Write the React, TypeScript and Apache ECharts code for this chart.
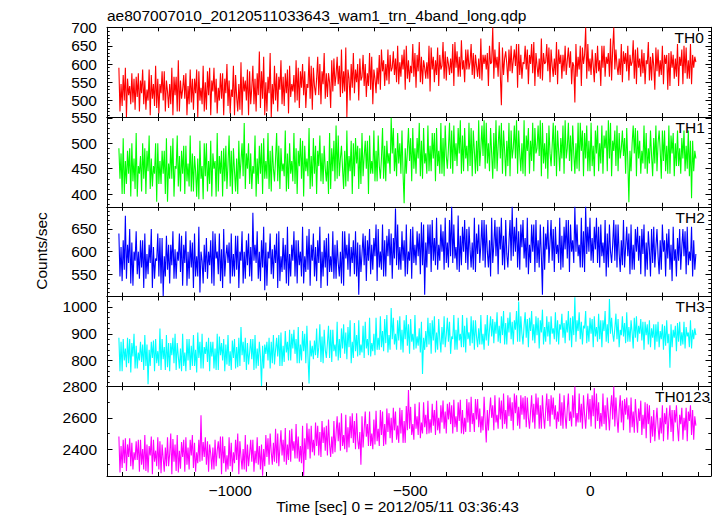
import { useEffect, useRef } from "react";
import * as echarts from "echarts";

// time bins: first bin start and bin width (sec); each bin holds two readings ("a" and "b")
const T_START = -1309;
const T_STEP = 6;

const th0 = [
  470, 545, 500, 590, 515, 540, 495, 560, 510, 575,
  520, 490, 555, 530, 585, 505, 545, 480, 560, 520,
  500, 580, 525, 545, 490, 565, 515, 470, 555, 530,
  505, 575, 540, 495, 560, 520, 585, 500, 535, 470,
  550, 515, 590, 525, 495, 560, 535, 505, 575, 520,
  485, 555, 530, 595, 510, 545, 475, 565, 525, 500,
  580, 535, 490, 560, 515, 634, 505, 460, 550, 520,
  455, 545, 500, 575, 530, 490, 565, 520, 585, 510,
  545, 570, 500, 590, 535, 515, 580, 545, 505, 595,
  540, 560, 515, 600, 545, 505, 575, 550, 610, 525,
  570, 545, 595, 520, 580, 455, 560, 600, 535, 585,
  550, 615, 565, 540, 600, 575, 530, 620, 560, 590,
  545, 640, 580, 600, 555, 625, 590, 570, 615, 545,
  605, 585, 640, 560, 610, 595, 565, 630, 580, 550,
  620, 590, 605, 560, 645, 585, 610, 570, 625, 595,
  560, 635, 600, 615, 575, 660, 590, 620, 565, 610,
  640, 585, 605, 570, 630, 595, 615, 560, 625, 600,
  585, 650, 605, 700, 590, 620, 570, 487, 615, 600,
  640, 580, 610, 595, 655, 570, 625, 605, 585, 640,
  600, 575, 660, 595, 615, 560, 630, 605, 580, 645,
  595, 615, 570, 640, 600, 625, 580, 610, 590, 635,
  605, 495, 620, 585, 645, 600, 700, 580, 615, 595,
  630, 575, 610, 650, 590, 620, 600, 565, 640, 700,
  595, 615, 570, 635, 600, 580, 625, 605, 560, 640,
  590, 615, 575, 630, 600, 555, 620, 595, 645, 580,
  610, 570, 625, 600, 530, 635, 590, 615, 565, 620,
  595, 650, 575, 610, 560, 625, 590, 605,
];
const th0b = [
  590, 485, 570, 455, 560, 490, 575, 475, 565, 470,
  555, 585, 475, 500, 460, 570, 485, 595, 465, 545,
  580, 470, 555, 480, 590, 460, 565, 610, 470, 505,
  570, 460, 490, 585, 475, 560, 455, 580, 490, 595,
  475, 580, 460, 555, 590, 465, 500, 575, 460, 560,
  600, 465, 510, 460, 570, 470, 605, 460, 555, 585,
  460, 490, 595, 470, 575, 480, 580, 620, 470, 565,
  630, 490, 595, 470, 565, 610, 485, 575, 465, 595,
  525, 495, 610, 480, 580, 600, 480, 535, 620, 475,
  590, 515, 620, 490, 580, 630, 510, 575, 480, 615,
  540, 620, 510, 640, 525, 645, 585, 500, 630, 520,
  600, 500, 555, 625, 510, 540, 630, 490, 585, 520,
  625, 530, 610, 540, 640, 545, 580, 635, 550, 650,
  565, 625, 530, 650, 550, 575, 655, 535, 625, 660,
  545, 610, 560, 650, 525, 620, 550, 645, 540, 585,
  660, 555, 620, 570, 655, 540, 635, 565, 665, 585,
  550, 640, 585, 655, 560, 625, 565, 670, 555, 625,
  630, 540, 600, 560, 640, 565, 660, 645, 570, 635,
  550, 650, 575, 640, 535, 655, 560, 600, 650, 545,
  625, 655, 540, 630, 565, 670, 555, 600, 655, 550,
  640, 565, 660, 545, 625, 560, 650, 570, 645, 545,
  595, 655, 565, 650, 540, 625, 560, 655, 570, 640,
  550, 650, 580, 540, 650, 565, 630, 670, 555, 585,
  640, 570, 655, 550, 630, 650, 555, 595, 665, 545,
  645, 565, 640, 545, 610, 660, 555, 630, 530, 640,
  565, 650, 545, 625, 630, 540, 625, 560, 655, 540,
  640, 545, 645, 560, 655, 545, 620, 600,
];

const th1 = [
  430, 480, 400, 465, 440, 490, 425, 470, 395, 455,
  475, 430, 490, 445, 410, 470, 455, 500, 420, 465,
  440, 485, 385, 460, 430, 510, 450, 415, 475, 440,
  495, 425, 460, 405, 480, 445, 470, 390, 455, 500,
  435, 465, 420, 480, 450, 395, 475, 440, 490, 425,
  460, 415, 485, 445, 470, 400, 465, 435, 540, 450,
  420, 480, 455, 395, 470, 440, 500, 430, 465, 410,
  485, 450, 470, 425, 495, 445, 460, 405, 480, 440,
  465, 420, 490, 455, 430, 505, 445, 470, 410, 475,
  440, 495, 455, 425, 480, 450, 465, 400, 490, 445,
  535, 430, 470, 450, 485, 415, 475, 445, 500, 435,
  460, 490, 420, 475, 450, 505, 440, 465, 425, 485,
  455, 470, 430, 495, 460, 480, 550, 445, 490, 460,
  500, 440, 382, 485, 465, 510, 450, 490, 470, 435,
  505, 460, 480, 445, 495, 470, 520, 455, 485, 440,
  510, 475, 490, 450, 525, 465, 500, 480, 440, 515,
  470, 495, 455, 530, 485, 505, 445, 490, 475, 545,
  460, 500, 480, 520, 450, 495, 470, 540, 485, 505,
  455, 525, 490, 470, 545, 480, 500, 440, 515, 485,
  505, 465, 530, 490, 475, 545, 460, 500, 520, 480,
  495, 455, 535, 485, 510, 470, 545, 490, 465, 515,
  480, 500, 450, 540, 485, 520, 470, 505, 445, 495,
  525, 480, 500, 460, 515, 490, 545, 470, 505, 485,
  455, 520, 490, 475, 510, 465, 384, 500, 480, 530,
  470, 505, 485, 450, 520, 490, 475, 510, 460, 500,
  485, 525, 465, 495, 440, 515, 480, 500, 455, 490,
  510, 470, 495, 450, 505, 392, 485, 470,
];
const th1b = [
  490, 400, 510, 420, 485, 395, 500, 410, 520, 440,
  405, 500, 400, 485, 515, 415, 440, 385, 500, 420,
  485, 400, 510, 430, 495, 395, 455, 515, 405, 485,
  400, 495, 415, 515, 405, 475, 395, 505, 430, 390,
  500, 405, 505, 395, 465, 520, 405, 485, 395, 495,
  410, 515, 400, 490, 405, 505, 430, 500, 410, 480,
  500, 410, 440, 515, 420, 495, 400, 510, 430, 520,
  405, 495, 425, 520, 410, 490, 435, 525, 410, 500,
  425, 520, 400, 485, 510, 395, 495, 435, 530, 415,
  510, 400, 485, 515, 420, 495, 425, 520, 410, 505,
  425, 515, 435, 495, 410, 525, 425, 505, 400, 510,
  495, 410, 520, 435, 505, 400, 515, 440, 525, 425,
  515, 430, 530, 425, 505, 440, 480, 530, 435, 520,
  440, 525, 490, 440, 530, 425, 530, 440, 510, 540,
  430, 530, 440, 535, 445, 520, 425, 530, 440, 540,
  435, 535, 450, 540, 440, 535, 455, 530, 545, 445,
  530, 445, 540, 435, 525, 440, 545, 455, 535, 450,
  540, 445, 530, 430, 545, 445, 535, 440, 525, 435,
  540, 435, 470, 535, 440, 525, 445, 545, 435, 530,
  440, 540, 445, 480, 535, 435, 540, 450, 430, 535,
  455, 540, 435, 525, 445, 535, 440, 470, 540, 445,
  535, 440, 540, 445, 525, 435, 535, 445, 540, 455,
  435, 535, 445, 535, 440, 525, 445, 540, 435, 525,
  535, 445, 470, 525, 440, 530, 485, 445, 535, 435,
  525, 440, 460, 535, 440, 460, 525, 435, 535, 445,
  525, 430, 525, 445, 535, 440, 520, 435, 525, 455,
  440, 525, 445, 525, 435, 505, 445, 475,
];

const th2 = [
  545, 610, 560, 679, 575, 530, 620, 580, 550, 600,
  565, 625, 540, 595, 575, 520, 610, 585, 545, 630,
  502, 590, 560, 615, 570, 540, 605, 580, 555, 635,
  575, 525, 600, 565, 620, 545, 590, 510, 580, 615,
  555, 600, 570, 530, 640, 585, 550, 605, 520, 590,
  575, 620, 545, 595, 560, 635, 580, 530, 600, 570,
  545, 610, 686, 575, 540, 600, 565, 515, 620, 585,
  550, 605, 575, 640, 535, 590, 560, 615, 525, 595,
  580, 545, 625, 570, 600, 530, 590, 560, 650, 580,
  545, 610, 575, 520, 600, 565, 630, 555, 590, 540,
  615, 575, 600, 530, 645, 585, 560, 610, 575, 550,
  620, 505, 595, 570, 635, 580, 550, 615, 590, 660,
  565, 600, 545, 625, 590, 570, 640, 585, 695, 560,
  610, 580, 625, 550, 600, 650, 575, 615, 590, 640,
  570, 505, 620, 595, 660, 580, 630, 560, 615, 600,
  645, 575, 620, 590, 699, 585, 610, 555, 635, 600,
  575, 650, 605, 620, 560, 640, 595, 615, 580, 670,
  600, 625, 545, 615, 590, 655, 605, 570, 635, 595,
  620, 580, 699, 600, 565, 645, 610, 585, 630, 550,
  615, 600, 660, 575, 625, 590, 505, 640, 605, 620,
  580, 650, 595, 615, 560, 635, 605, 585, 670, 600,
  625, 699, 590, 615, 565, 645, 699, 600, 580, 630,
  605, 575, 655, 590, 620, 545, 640, 600, 615, 580,
  660, 595, 625, 570, 610, 590, 640, 560, 615, 600,
  580, 635, 595, 545, 620, 605, 650, 575, 610, 590,
  625, 560, 600, 640, 585, 615, 535, 605, 630, 580,
  610, 590, 645, 570, 600, 545, 625, 595,
];
const th2b = [
  640, 535, 625, 540, 615, 650, 525, 600, 645, 540,
  625, 520, 640, 550, 615, 650, 540, 580, 640, 530,
  630, 545, 635, 530, 615, 645, 540, 600, 640, 525,
  615, 645, 540, 625, 520, 640, 545, 655, 600, 530,
  630, 540, 625, 645, 525, 600, 640, 535, 650, 545,
  615, 530, 640, 545, 635, 520, 600, 645, 540, 625,
  640, 535, 580, 615, 645, 535, 625, 655, 525, 600,
  640, 540, 615, 520, 645, 555, 630, 530, 655, 545,
  615, 645, 530, 625, 545, 655, 555, 635, 525, 615,
  640, 535, 625, 655, 545, 625, 525, 640, 555, 645,
  540, 625, 545, 645, 525, 615, 640, 545, 625, 645,
  545, 615, 555, 640, 535, 625, 650, 560, 630, 535,
  650, 560, 660, 545, 635, 650, 540, 630, 570, 660,
  560, 645, 545, 660, 580, 540, 655, 570, 645, 550,
  665, 660, 565, 660, 555, 670, 570, 675, 580, 660,
  560, 675, 565, 670, 575, 660, 560, 680, 570, 655,
  670, 560, 655, 565, 675, 555, 660, 575, 670, 565,
  660, 565, 675, 575, 670, 550, 655, 675, 560, 670,
  565, 670, 590, 655, 675, 560, 660, 670, 565, 675,
  575, 660, 555, 670, 565, 660, 655, 560, 670, 575,
  670, 555, 655, 575, 675, 565, 655, 670, 555, 660,
  575, 600, 660, 565, 675, 555, 595, 655, 675, 575,
  655, 675, 565, 660, 575, 670, 565, 660, 575, 670,
  565, 660, 555, 670, 565, 655, 550, 660, 560, 650,
  655, 550, 650, 660, 560, 645, 545, 655, 565, 650,
  550, 660, 625, 545, 650, 560, 655, 580, 545, 650,
  560, 650, 550, 655, 580, 655, 560, 610,
];

const th3 = [
  760, 870, 800, 845, 790, 880, 815, 770, 855, 830,
  795, 860, 780, 712, 840, 810, 875, 790, 835, 920,
  805, 850, 775, 865, 820, 790, 900, 815, 845, 760,
  830, 880, 800, 855, 780, 840, 905, 810, 770, 850,
  825, 795, 870, 815, 845, 765, 890, 820, 800, 860,
  785, 835, 875, 810, 850, 775, 925, 820, 795, 865,
  830, 805, 880, 770, 845, 815, 705, 860, 825, 800,
  870, 790, 840, 815, 895, 780, 855, 830, 870, 800,
  845, 825, 880, 790, 860, 835, 900, 815, 714, 855,
  875, 820, 850, 795, 890, 840, 865, 810, 915, 835,
  860, 800, 880, 845, 825, 905, 850, 790, 870, 835,
  895, 820, 860, 930, 845, 880, 815, 865, 900, 840,
  885, 850, 910, 865, 830, 895, 996, 860, 900, 875,
  840, 915, 880, 855, 935, 870, 900, 845, 890, 920,
  750, 885, 910, 860, 940, 875, 830, 905, 880, 925,
  860, 895, 870, 945, 890, 840, 915, 875, 900, 850,
  930, 880, 905, 865, 950, 890, 920, 860, 900, 935,
  875, 915, 890, 955, 900, 870, 930, 895, 860, 940,
  905, 880, 945, 915, 870, 1020, 900, 930, 885, 955,
  910, 875, 935, 895, 960, 905, 860, 925, 890, 945,
  900, 920, 870, 950, 915, 885, 940, 905, 875, 960,
  895, 1036, 910, 880, 945, 920, 865, 930, 900, 955,
  890, 925, 880, 950, 910, 870, 935, 1030, 900, 920,
  880, 955, 915, 890, 940, 870, 925, 905, 960, 885,
  930, 900, 875, 945, 895, 860, 920, 885, 935, 870,
  910, 880, 930, 855, 900, 773, 915, 885, 940, 870,
  905, 860, 925, 890, 850, 915, 880, 895,
];
const th3b = [
  885, 760, 880, 775, 885, 755, 865, 900, 770, 800,
  870, 765, 895, 860, 780, 870, 760, 880, 780, 765,
  880, 765, 895, 760, 865, 885, 765, 865, 770, 900,
  780, 760, 880, 765, 895, 780, 755, 870, 900, 770,
  870, 885, 760, 870, 770, 900, 765, 865, 880, 760,
  895, 780, 765, 880, 770, 885, 780, 870, 885, 765,
  785, 880, 765, 895, 780, 870, 855, 770, 870, 885,
  770, 895, 785, 885, 780, 905, 795, 910, 800, 915,
  900, 915, 790, 925, 800, 910, 790, 930, 875, 815,
  805, 920, 810, 935, 790, 915, 810, 930, 795, 915,
  815, 945, 810, 920, 935, 805, 925, 950, 810, 940,
  815, 950, 830, 810, 945, 820, 960, 835, 820, 960,
  840, 965, 835, 955, 970, 840, 880, 960, 840, 950,
  965, 830, 950, 970, 825, 955, 840, 970, 855, 830,
  945, 840, 850, 960, 825, 950, 965, 840, 955, 830,
  965, 850, 960, 825, 880, 970, 840, 960, 850, 970,
  830, 960, 855, 965, 840, 950, 850, 970, 860, 840,
  970, 855, 965, 865, 945, 980, 865, 965, 985, 860,
  960, 980, 860, 950, 985, 870, 965, 860, 980, 850,
  960, 985, 865, 965, 845, 950, 990, 870, 965, 860,
  965, 880, 980, 860, 935, 975, 865, 950, 985, 850,
  965, 870, 950, 980, 860, 930, 985, 870, 960, 850,
  965, 870, 975, 850, 950, 985, 865, 900, 960, 870,
  975, 850, 895, 965, 865, 980, 870, 950, 845, 965,
  870, 955, 945, 840, 935, 950, 850, 935, 840, 945,
  850, 935, 840, 950, 865, 935, 850, 930, 835, 945,
  855, 945, 845, 905, 950, 845, 920, 890,
];

const th0123 = [
  2250, 2420, 2310, 2470, 2350, 2290, 2440, 2380, 2330, 2460,
  2300, 2400, 2260, 2430, 2360, 2480, 2320, 2390, 2270, 2450,
  2340, 2410, 2290, 2370, 2500, 2320, 2430, 2250, 2390, 2350,
  2460, 2300, 2410, 2360, 2280, 2440, 2380, 2320, 2617, 2350,
  2300, 2450, 2370, 2410, 2270, 2390, 2340, 2480, 2310, 2420,
  2360, 2290, 2440, 2380, 2330, 2500, 2350, 2400, 2270, 2430,
  2370, 2320, 2460, 2390, 2300, 2420, 2230, 2400, 2350, 2470,
  2380, 2440, 2320, 2500, 2410, 2360, 2460, 2300, 2430, 2520,
  2390, 2450, 2340, 2480, 2420, 2230, 2470, 2400, 2530, 2380,
  2460, 2420, 2360, 2510, 2440, 2390, 2550, 2430, 2480, 2370,
  2500, 2450, 2570, 2420, 2490, 2380, 2540, 2470, 2440, 2580,
  2460, 2510, 2300, 2530, 2480, 2560, 2420, 2500, 2590, 2450,
  2530, 2490, 2420, 2560, 2510, 2470, 2600, 2520, 2460, 2550,
  2500, 2440, 2580, 2520, 2778, 2490, 2560, 2530, 2610, 2470,
  2570, 2540, 2620, 2500, 2590, 2550, 2650, 2520, 2600, 2570,
  2530, 2640, 2590, 2560, 2680, 2540, 2610, 2580, 2500, 2650,
  2600, 2570, 2700, 2560, 2630, 2590, 2540, 2660, 2610, 2580,
  2443, 2640, 2600, 2680, 2570, 2620, 2590, 2710, 2560, 2650,
  2610, 2580, 2700, 2630, 2550, 2670, 2620, 2590, 2740, 2600,
  2640, 2570, 2690, 2620, 2530, 2680, 2610, 2650, 2580, 2720,
  2620, 2590, 2680, 2640, 2550, 2700, 2610, 2660, 2580, 2640,
  2600, 2800, 2630, 2570, 2690, 2620, 2650, 2590, 2720, 2610,
  2790, 2580, 2700, 2630, 2560, 2680, 2620, 2660, 2590, 2800,
  2600, 2650, 2570, 2710, 2620, 2590, 2680, 2540, 2640, 2600,
  2660, 2580, 2620, 2530, 2690, 2560, 2610, 2480, 2570, 2540,
  2600, 2500, 2630, 2560, 2590, 2510, 2650, 2570, 2540, 2620,
  2560, 2600, 2520, 2640, 2580, 2490, 2610, 2550,
];
const th0123b = [
  2480, 2280, 2460, 2260, 2430, 2470, 2270, 2330, 2450, 2255,
  2460, 2270, 2490, 2250, 2420, 2240, 2460, 2290, 2475, 2245,
  2430, 2255, 2475, 2290, 2240, 2465, 2260, 2490, 2275, 2445,
  2255, 2475, 2270, 2460, 2490, 2255, 2310, 2460, 2325, 2445,
  2475, 2255, 2430, 2270, 2460, 2290, 2450, 2240, 2480, 2255,
  2270, 2475, 2255, 2310, 2460, 2240, 2450, 2270, 2490, 2255,
  2290, 2460, 2255, 2310, 2475, 2270, 2430, 2290, 2490, 2300,
  2500, 2300, 2530, 2310, 2290, 2520, 2320, 2535, 2330, 2320,
  2530, 2340, 2560, 2320, 2310, 2550, 2330, 2565, 2340, 2550,
  2360, 2570, 2550, 2350, 2580, 2540, 2360, 2590, 2350, 2580,
  2380, 2610, 2390, 2630, 2400, 2620, 2410, 2610, 2630, 2400,
  2630, 2400, 2610, 2410, 2640, 2420, 2640, 2400, 2430, 2645,
  2420, 2650, 2640, 2430, 2660, 2630, 2440, 2665, 2640, 2440,
  2665, 2650, 2440, 2675, 2530, 2670, 2460, 2690, 2490, 2700,
  2500, 2700, 2495, 2710, 2505, 2690, 2490, 2710, 2500, 2680,
  2710, 2500, 2690, 2700, 2500, 2715, 2510, 2700, 2715, 2495,
  2510, 2720, 2510, 2735, 2510, 2720, 2720, 2505, 2520, 2735,
  2650, 2520, 2730, 2520, 2745, 2530, 2730, 2530, 2755, 2530,
  2745, 2730, 2520, 2755, 2745, 2530, 2745, 2730, 2540, 2730,
  2530, 2745, 2530, 2755, 2730, 2530, 2745, 2530, 2755, 2545,
  2745, 2730, 2530, 2575, 2755, 2530, 2745, 2530, 2755, 2545,
  2745, 2545, 2570, 2755, 2530, 2745, 2530, 2755, 2545, 2745,
  2530, 2755, 2530, 2545, 2755, 2520, 2730, 2520, 2745, 2545,
  2730, 2505, 2745, 2520, 2720, 2730, 2505, 2730, 2505, 2720,
  2505, 2710, 2490, 2700, 2470, 2680, 2440, 2650, 2450, 2665,
  2460, 2680, 2450, 2665, 2460, 2680, 2450, 2650, 2680, 2450,
  2665, 2460, 2665, 2450, 2680, 2650, 2460, 2560,
];

// tick labels
const th0Labels = [500, 550, 600, 650, 700];
const th1Labels = [400, 450, 500, 550];
const th2Labels = [550, 600, 650];
const th3Labels = [800, 900, 1000];
const th0123Labels = [2400, 2600, 2800];
const xLabels = [-1000, -500, 0];

const FONT = "'Liberation Sans', Arial, Helvetica, sans-serif";

const panels = [
  { name: "TH0", a: th0, b: th0b, labels: th0Labels, color: "#ff0000", min: 455, max: 700.5, major: 50, minor: 10, nameX: 674.5 },
  { name: "TH1", a: th1, b: th1b, labels: th1Labels, color: "#00ff00", min: 375, max: 551.5, major: 50, minor: 10, nameX: 675.5 },
  { name: "TH2", a: th2, b: th2b, labels: th2Labels, color: "#0000ff", min: 501, max: 699, major: 50, minor: 10, nameX: 675.5 },
  { name: "TH3", a: th3, b: th3b, labels: th3Labels, color: "#00ffff", min: 704, max: 1039, major: 100, minor: 20, nameX: 675.5 },
  { name: "TH0123", a: th0123, b: th0123b, labels: th0123Labels, color: "#ff00ff", min: 2228, max: 2802, major: 200, minor: 100, nameX: 655 },
];

const LEFT = 107;
const RIGHT = 711;
const TOP = 27.3;
const BOTTOM = 476;
const X_MIN = -1342;
const X_MAX = 335;

function ticksBetween(min: number, max: number, step: number, exclude: number) {
  const out: number[] = [];
  for (let v = Math.ceil(min / step) * step; v <= max; v += step) {
    if (v % exclude !== 0) out.push(v);
  }
  return out;
}
function majorsBetween(min: number, max: number, step: number) {
  const out: number[] = [];
  for (let v = Math.ceil(min / step) * step; v <= max; v += step) out.push(v);
  return out;
}

// two readings per bin: the one further from the previous sample goes first
function binData(a: number[], b: number[]) {
  const data: number[][] = [];
  let prev = a[0];
  for (let i = 0; i < a.length; i++) {
    const t = T_START + i * T_STEP;
    if (i === a.length - 1 || i >= b.length) {
      data.push([t, a[i]]);
      prev = a[i];
      continue;
    }
    const first = Math.abs(a[i] - prev) >= Math.abs(b[i] - prev) ? a[i] : b[i];
    const second = first === a[i] ? b[i] : a[i];
    data.push([t, first]);
    data.push([t + T_STEP / 2, second]);
    prev = second;
  }
  return data;
}

export default function App() {
  const ref = useRef<HTMLDivElement>(null);
  useEffect(() => {
    if (!ref.current) return;
    const chart = echarts.init(ref.current, null, { renderer: "svg" });
    const ph = (BOTTOM - TOP) / panels.length;
    const grids: any[] = [];
    const xAxes: any[] = [];
    const yAxes: any[] = [];
    const series: any[] = [];
    const graphics: any[] = [];
    const xTicks = majorsBetween(-1300, 300, 100);
    const line = { show: true, onZero: false, lineStyle: { color: "#000", width: 1 } };
    const noLine = { show: false, onZero: false };
    const tickStyle = { color: "#000", width: 1 };

    panels.forEach((p, k) => {
      const top = TOP + k * ph;
      grids.push({ left: LEFT, width: RIGHT - LEFT, top, height: ph, containLabel: false });
      const baseX = { type: "value", gridIndex: k, min: X_MIN, max: X_MAX, splitLine: { show: false } };
      const isLast = k === panels.length - 1;
      const xi = xAxes.length;
      xAxes.push({
        ...baseX,
        position: "bottom",
        axisLine: line,
        axisTick: { show: true, inside: true, length: 4, customValues: xTicks, lineStyle: tickStyle },
        axisLabel: isLast
          ? {
              show: true, customValues: xLabels, margin: 6, color: "#000", fontSize: 15.5, fontFamily: FONT,
              formatter: (v: number) => String(v).replace("-", "\u2212"),
            }
          : { show: false },
      });
      xAxes.push({
        ...baseX,
        position: "top",
        axisLine: line,
        axisTick: { show: true, inside: true, length: 4, customValues: xTicks, lineStyle: tickStyle },
        axisLabel: { show: false },
      });
      const majors = majorsBetween(p.min, p.max, p.major);
      const minors = ticksBetween(p.min, p.max, p.minor, p.major);
      const baseY = { type: "value", gridIndex: k, min: p.min, max: p.max, splitLine: { show: false } };
      const yi = yAxes.length;
      yAxes.push({
        ...baseY,
        position: "left",
        axisLine: line,
        axisTick: { show: true, inside: true, length: 5.5, customValues: majors, lineStyle: tickStyle },
        axisLabel: {
          show: true, customValues: p.labels, margin: 10, color: "#000", fontSize: 15.5, fontFamily: FONT,
          formatter: (v: number) => String(v),
        },
      });
      yAxes.push({
        ...baseY,
        position: "left",
        axisLine: noLine,
        axisTick: { show: true, inside: true, length: 2.7, customValues: minors, lineStyle: tickStyle },
        axisLabel: { show: false },
      });
      yAxes.push({
        ...baseY,
        position: "right",
        axisLine: line,
        axisTick: { show: true, inside: true, length: 5.5, customValues: majors, lineStyle: tickStyle },
        axisLabel: { show: false },
      });
      yAxes.push({
        ...baseY,
        position: "right",
        axisLine: noLine,
        axisTick: { show: true, inside: true, length: 2.7, customValues: minors, lineStyle: tickStyle },
        axisLabel: { show: false },
      });
      series.push({
        type: "line",
        xAxisIndex: xi,
        yAxisIndex: yi,
        data: binData(p.a, p.b),
        showSymbol: false,
        symbol: "none",
        clip: true,
        lineStyle: { color: p.color, width: 1.1 },
        itemStyle: { color: p.color },
        z: 1,
      });
      graphics.push({
        type: "text",
        x: p.nameX,
        y: top + 10.3,
        z: 10,
        style: { text: p.name, fill: "#000", font: `15.5px ${FONT}`, align: "left", verticalAlign: "middle" },
      });
    });

    graphics.push({
      type: "text",
      x: 107,
      y: 15,
      style: {
        text: "ae807007010_20120511033643_wam1_trn_4band_long.qdp",
        fill: "#000", font: `15.5px ${FONT}`, align: "left", verticalAlign: "middle",
      },
    });
    graphics.push({
      type: "text",
      x: 41.7,
      y: 251,
      rotation: Math.PI / 2,
      style: { text: "Counts/sec", fill: "#000", font: `15.5px ${FONT}`, align: "center", verticalAlign: "middle" },
    });
    graphics.push({
      type: "text",
      x: 397.5,
      y: 506.7,
      style: {
        text: "Time [sec] 0 = 2012/05/11 03:36:43",
        fill: "#000", font: `15.5px ${FONT}`, align: "center", verticalAlign: "middle",
      },
    });

    chart.setOption({
      animation: false,
      backgroundColor: "#fff",
      grid: grids,
      xAxis: xAxes,
      yAxis: yAxes,
      series,
      graphic: graphics,
    });
    return () => chart.dispose();
  }, []);
  return (
    <div
      ref={ref}
      style={{ position: "fixed", left: 0, top: 0, width: 717, height: 516, background: "#fff" }}
    />
  );
}
